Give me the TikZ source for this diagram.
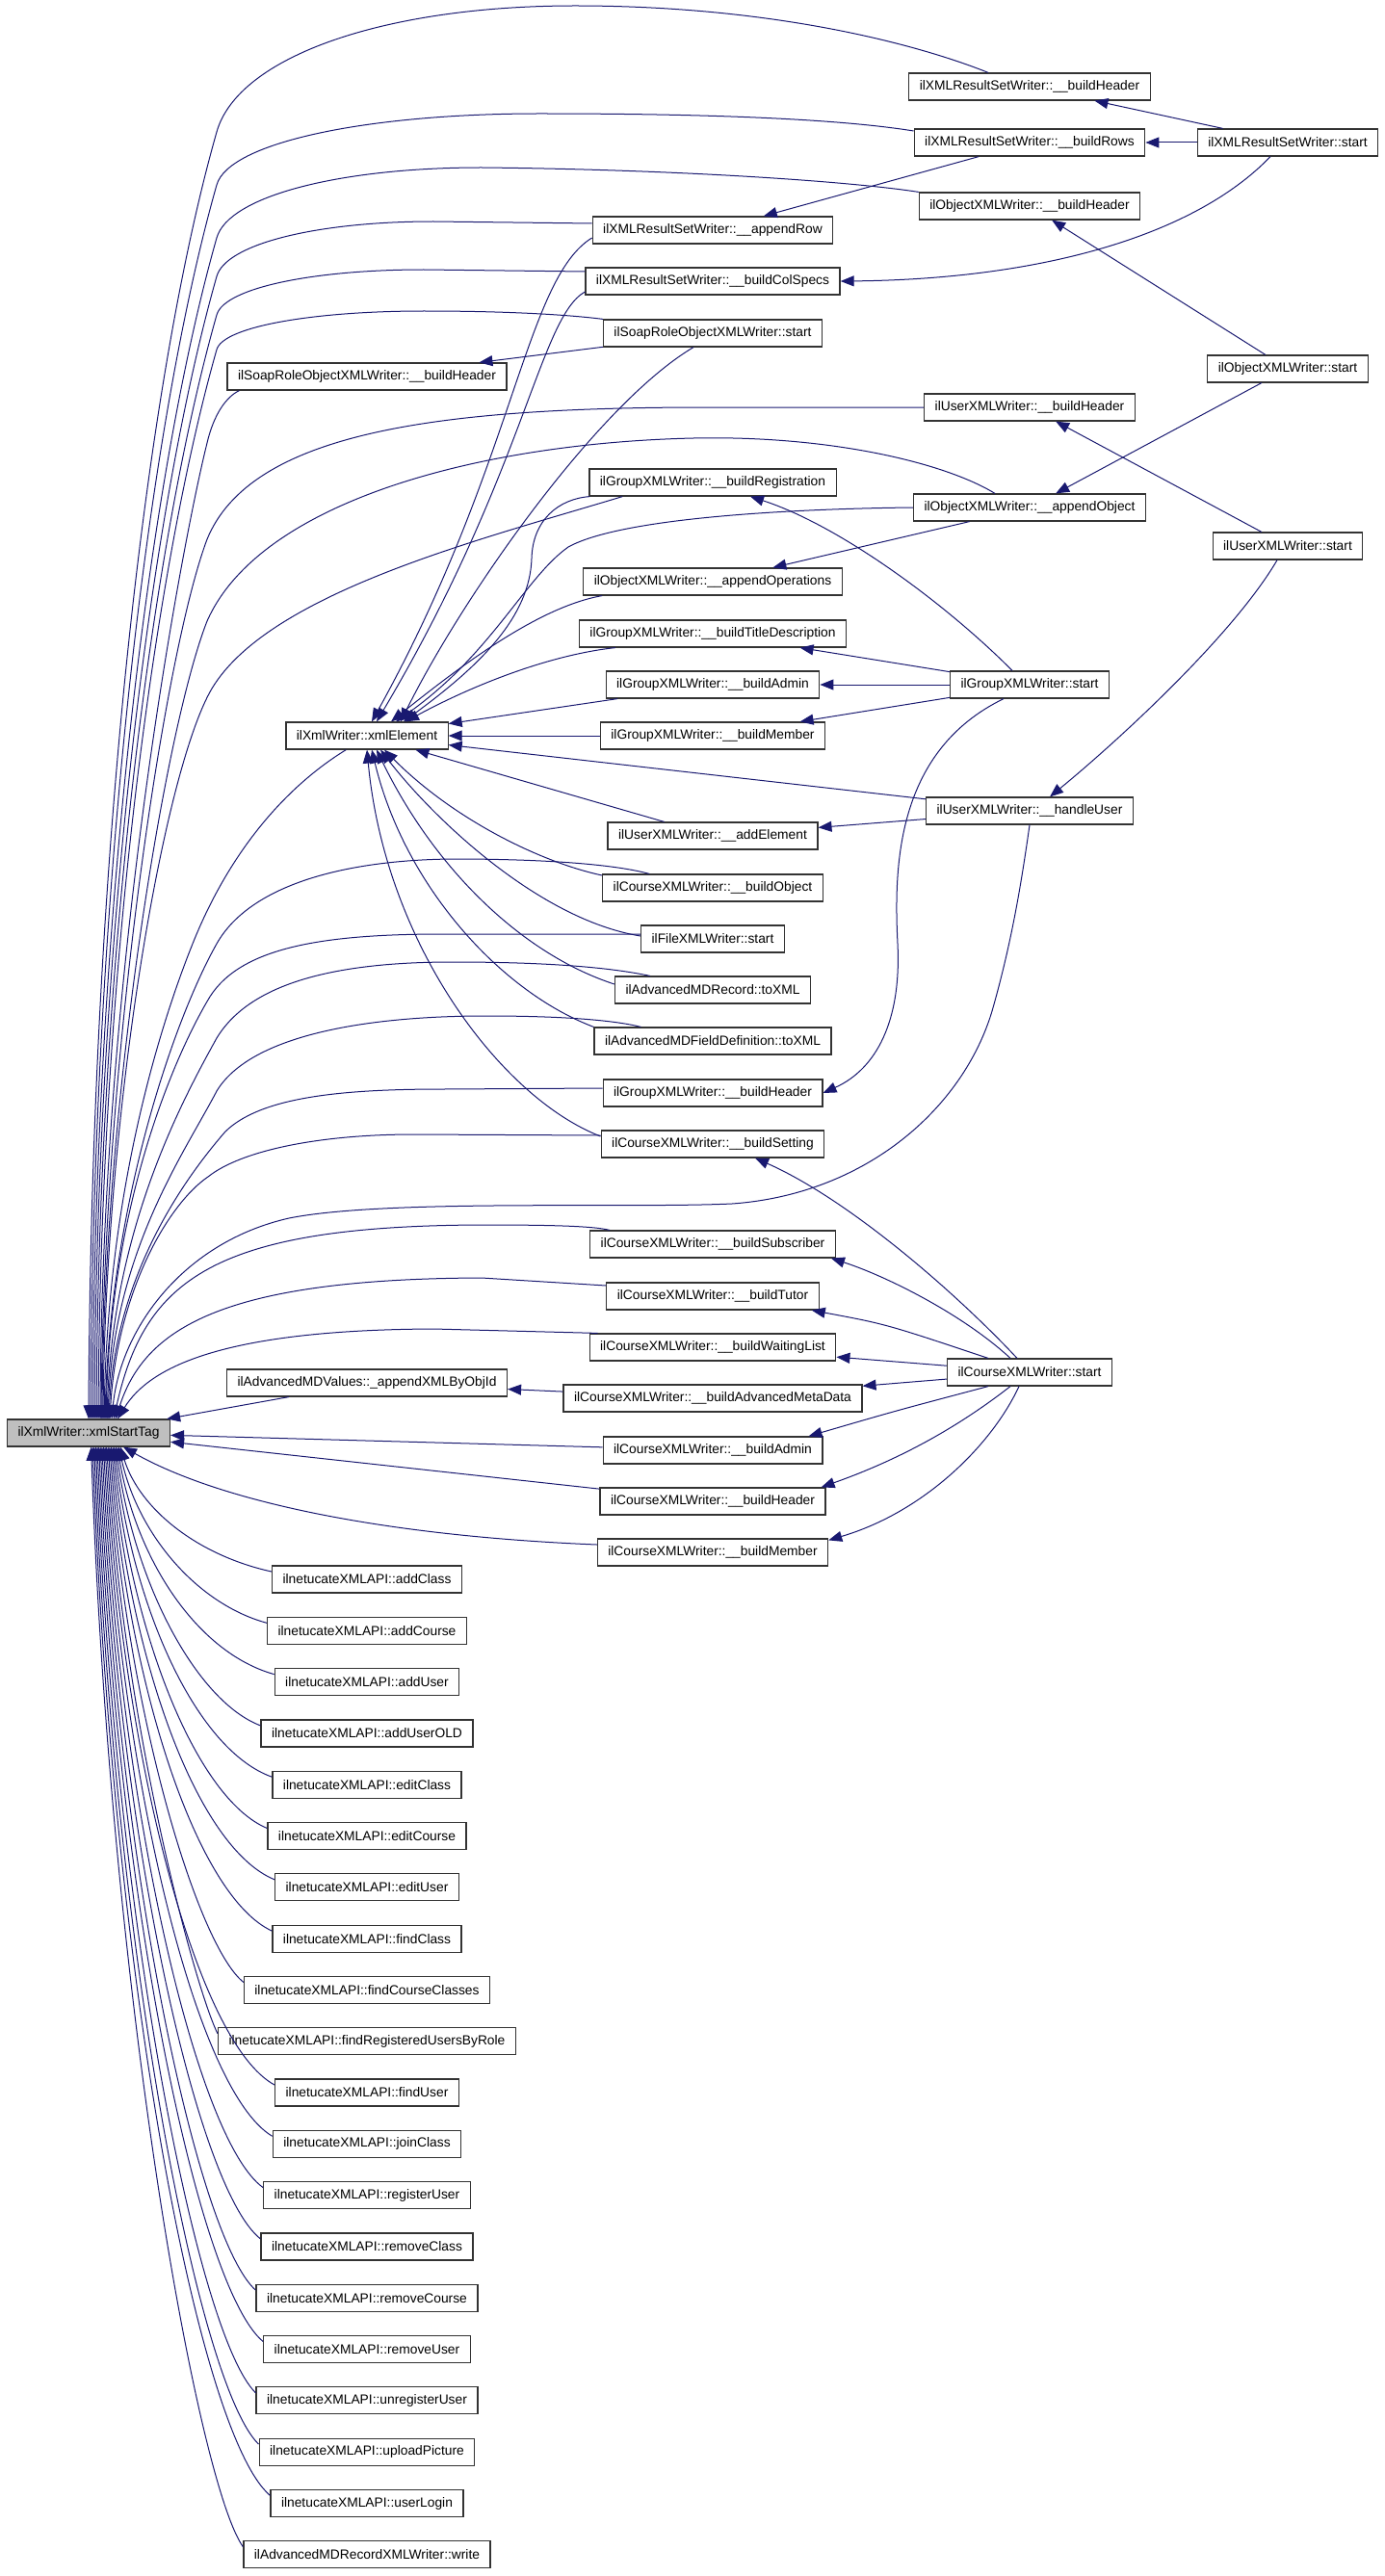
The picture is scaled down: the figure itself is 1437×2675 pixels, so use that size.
\documentclass[tikz,border=0pt]{standalone}
\usepackage{fontspec}
\setmainfont{Liberation Sans}
\usetikzlibrary{arrows.meta,calc}

\definecolor{navyline}{HTML}{191970}
\tikzset{
  fn/.style={draw=black!80, line width=0.6pt, fill=white, minimum height=14pt,
    inner xsep=5.5pt, inner ysep=0pt, font=\fontsize{6.9pt}{8pt}\selectfont},
  call/.style={draw=navyline, line width=0.5pt, {Triangle[length=7pt,width=5.5pt]}-}
}
% curve leaving the top of xmlStartTag: x offset, knee y, crest y, crest x
\newcommand\fromtag[4]{($(startTag.north)+(#1,0)$) .. controls ({95+#1},{1474-0.43*(1474-#2)}) and ({225-0.056*(1474-#2)},{#2+0.197*(1474-#2)}) .. (225,#2) .. controls ({225+0.17*(#2-#3)},{#3+0.4*(#2-#3)}) and ({225+0.47*(#4-225)},#3) .. (#4,#3)}

\begin{document}
\begin{tikzpicture}[x=0.5pt,y=-0.5pt]
\useasboundingbox (0,0) rectangle (1437,2675);

\node[fn, fill=gray!50] (startTag) at (92,1488) {ilXmlWriter::xmlStartTag};

% first column
\node[fn] (soapHeader) at (381,391) {ilSoapRoleObjectXMLWriter::\_\_buildHeader};
\node[fn] (xmlElement) at (381,764) {ilXmlWriter::xmlElement};
\node[fn] (mdValues) at (381,1436) {ilAdvancedMDValues::\_appendXMLByObjId};

% second column
\node[fn] (rsAppendRow) at (740,239) {ilXMLResultSetWriter::\_\_appendRow};
\node[fn] (rsColSpecs) at (740,292) {ilXMLResultSetWriter::\_\_buildColSpecs};
\node[fn] (soapStart) at (740,346) {ilSoapRoleObjectXMLWriter::start};
\node[fn] (grpReg) at (740,501) {ilGroupXMLWriter::\_\_buildRegistration};
\node[fn] (objOps) at (740,604) {ilObjectXMLWriter::\_\_appendOperations};
\node[fn] (grpTitle) at (740,658) {ilGroupXMLWriter::\_\_buildTitleDescription};
\node[fn] (grpAdmin) at (740,711) {ilGroupXMLWriter::\_\_buildAdmin};
\node[fn] (grpMember) at (740,764) {ilGroupXMLWriter::\_\_buildMember};
\node[fn] (userAdd) at (740,868) {ilUserXMLWriter::\_\_addElement};
\node[fn] (crsObject) at (740,922) {ilCourseXMLWriter::\_\_buildObject};
\node[fn] (fileStart) at (740,975) {ilFileXMLWriter::start};
\node[fn] (mdRecord) at (740,1028) {ilAdvancedMDRecord::toXML};
\node[fn] (mdField) at (740,1081) {ilAdvancedMDFieldDefinition::toXML};
\node[fn] (grpHeader) at (740,1135) {ilGroupXMLWriter::\_\_buildHeader};
\node[fn] (crsSetting) at (740,1188) {ilCourseXMLWriter::\_\_buildSetting};
\node[fn] (crsSub) at (740,1292) {ilCourseXMLWriter::\_\_buildSubscriber};
\node[fn] (crsTutor) at (740,1346) {ilCourseXMLWriter::\_\_buildTutor};
\node[fn] (crsWait) at (740,1399) {ilCourseXMLWriter::\_\_buildWaitingList};
\node[fn] (crsMeta) at (740,1452) {ilCourseXMLWriter::\_\_buildAdvancedMetaData};
\node[fn] (crsAdmin) at (740,1506) {ilCourseXMLWriter::\_\_buildAdmin};
\node[fn] (crsHeader) at (740,1559) {ilCourseXMLWriter::\_\_buildHeader};
\node[fn] (crsMember) at (740,1612) {ilCourseXMLWriter::\_\_buildMember};

% third column
\node[fn] (rsHeader) at (1069,90) {ilXMLResultSetWriter::\_\_buildHeader};
\node[fn] (rsRows) at (1069,148) {ilXMLResultSetWriter::\_\_buildRows};
\node[fn] (objHeader) at (1069,214) {ilObjectXMLWriter::\_\_buildHeader};
\node[fn] (userHeader) at (1069,423) {ilUserXMLWriter::\_\_buildHeader};
\node[fn] (objAppend) at (1069,527) {ilObjectXMLWriter::\_\_appendObject};
\node[fn] (grpStart) at (1069,711) {ilGroupXMLWriter::start};
\node[fn] (userHandle) at (1069,842) {ilUserXMLWriter::\_\_handleUser};
\node[fn] (crsStart) at (1069,1425) {ilCourseXMLWriter::start};

% fourth column
\node[fn] (rsStart) at (1337,148) {ilXMLResultSetWriter::start};
\node[fn] (objStart) at (1337,383) {ilObjectXMLWriter::start};
\node[fn] (userStart) at (1337,567) {ilUserXMLWriter::start};

% calls on the right
\draw[call] (rsHeader) -- (rsStart);
\draw[call] (rsRows) -- (rsStart);
\draw[call] (rsAppendRow) -- (rsRows);
\draw[call] (rsColSpecs.east) .. controls (1080,290) and (1240,245) .. ($(rsStart.south)+(-18,0)$);
\draw[call] (objHeader) -- (objStart);
\draw[call] (objAppend) -- (objStart);
\draw[call] (objOps) -- (objAppend);
\draw[call] (userHeader) -- (userStart);
\draw[call] ($(userHandle.north)+(21,0)$) .. controls (1160,770) and (1280,660) .. ($(userStart.south)+(-11,0)$);
\draw[call] (userAdd) -- (userHandle);
\draw[call] (soapHeader) -- (soapStart);
\draw[call] ($(grpReg.south)+(39,0)$) .. controls (870,545) and (980,625) .. ($(grpStart.north)+(-18,0)$);
\draw[call] (grpTitle) -- (grpStart);
\draw[call] (grpAdmin) -- (grpStart);
\draw[call] (grpMember) -- (grpStart);
\draw[call] (grpHeader.east) .. controls (910,1110) and (936,1060) .. (932,980) .. controls (928,900) and (930,780) .. ($(grpStart.south)+(-27,0)$);
\draw[call] ($(crsSetting.south)+(44,0)$) .. controls (880,1245) and (990,1340) .. ($(crsStart.north)+(-13,0)$);
\draw[call] ($(crsSub.south east)+(-5,0)$) .. controls (920,1325) and (1000,1365) .. ($(crsStart.north)+(-20,0)$);
\draw[call] ($(crsTutor.south east)+(-8,0)$) .. controls (920,1375) .. ($(crsStart.north)+(-43,0)$);
\draw[call] (crsWait) -- (crsStart);
\draw[call] (crsMeta) -- (crsStart);
\draw[call] ($(crsAdmin.north east)+(-15,0)$) .. controls (930,1465) .. ($(crsStart.south)+(-43,0)$);
\draw[call] ($(crsHeader.north east)+(-5,0)$) .. controls (950,1510) and (1010,1470) .. ($(crsStart.south)+(-20,0)$);
\draw[call] ($(crsMember.north east)+(0,2)$) .. controls (960,1570) and (1030,1500) .. ($(crsStart.south)+(-11,0)$);
\draw[call] (mdValues) -- (crsMeta);

% calls of xmlElement
\draw[call] ($(xmlElement.north)+(5,0)$) .. controls (535,480) and (545,290) .. ($(rsAppendRow.west)+(0,8)$);
\draw[call] ($(xmlElement.north)+(10,0)$) .. controls (545,490) and (560,330) .. ($(rsColSpecs.west)+(0,11)$);
\draw[call] ($(xmlElement.north)+(35,0)$) .. controls (480,620) and (620,420) .. ($(soapStart.south)+(-20,0)$);
\draw[call] ($(xmlElement.north)+(38,0)$) .. controls (500,690) and (550,640) .. (552,580) .. controls (553,540) and (580,518) .. ($(grpReg.south west)+(1,0)$);
\draw[call] ($(xmlElement.north)+(30,0)$) .. controls (510,680) and (545,600) .. (590,568) .. controls (650,535) and (850,528) .. (objAppend.west);
\draw[call] ($(xmlElement.north)+(25,0)$) .. controls (480,690) and (560,630) .. ($(objOps.south west)+(20,0)$);
\draw[call] ($(xmlElement.north)+(40,0)$) .. controls (490,712) and (570,680) .. ($(grpTitle.south west)+(38,0)$);
\draw[call] (xmlElement) -- (grpAdmin);
\draw[call] (xmlElement) -- (grpMember);
\draw[call] (xmlElement) -- (userHandle);
\draw[call] (xmlElement) -- (userAdd);
\draw[call] ($(xmlElement.south)+(18,0)$) .. controls (470,850) and (560,895) .. ($(crsObject.west)+(0,-13)$);
\draw[call] ($(xmlElement.south)+(14,0)$) .. controls (450,850) and (560,955) .. ($(fileStart.west)+(0,-3)$);
\draw[call] ($(xmlElement.south)+(10,0)$) .. controls (450,900) and (540,990) .. ($(mdRecord.west)+(0,-6)$);
\draw[call] ($(xmlElement.south)+(5,0)$) .. controls (420,920) and (520,1030) .. (mdField.north west);
\draw[call] (xmlElement.south) .. controls (400,980) and (520,1140) .. ($(crsSetting.west)+(0,-8)$);

% calls of xmlStartTag from above
\draw[call] \fromtag{0}{137}{6}{597} .. controls (800,6) and (950,45) .. ($(rsHeader.north)+(-43,0)$);
\draw[call] \fromtag{2}{192}{118}{560} .. controls (760,118) and (880,125) .. ($(rsRows.west)+(0,-12)$);
\draw[call] \fromtag{4}{247}{174}{500} .. controls (700,176) and (880,188) .. (objHeader.north west);
\draw[call] \fromtag{6}{287}{230}{450} -- ($(rsAppendRow.west)+(0,-7)$);
\draw[call] \fromtag{8}{327}{280}{440} -- ($(rsColSpecs.west)+(0,-10)$);
\draw[call] \fromtag{10}{363}{323}{440} .. controls (540,323) and (600,328) .. (soapStart.north west);
\draw[call] ($(startTag.north)+(12,0)$) .. controls (106,1000) and (190,560) .. (215,460) .. controls (222,430) and (235,412) .. ($(soapHeader.south west)+(13,0)$);
\draw[call] ($(startTag.north)+(13,0)$) .. controls (108,1100) and (170,680) .. (215,560) .. controls (260,450) and (450,424) .. (720,423) -- (userHeader.west);
\draw[call] ($(startTag.north)+(14,0)$) .. controls (108,1150) and (170,760) .. (215,645) .. controls (270,520) and (500,460) .. (720,455) .. controls (860,452) and (980,480) .. ($(objAppend.north)+(-36,0)$);
\draw[call] ($(startTag.north)+(15,0)$) .. controls (110,1150) and (170,800) .. (220,715) .. controls (280,615) and (500,560) .. ($(grpReg.south west)+(35,0)$);
\draw[call] ($(startTag.north)+(16,0)$) .. controls (112,1250) and (160,1080) .. (200,980) .. controls (240,880) and (300,815) .. ($(xmlElement.south west)+(63,0)$);
\draw[call] ($(startTag.north)+(17,0)$) .. controls (115,1250) and (180,1060) .. (225,980) .. controls (260,918) and (360,893) .. (470,892) .. controls (570,892) and (640,898) .. ($(crsObject.north west)+(49,0)$);
\draw[call] ($(startTag.north)+(18,0)$) .. controls (115,1250) and (180,1100) .. (215,1040) .. controls (245,985) and (330,970) .. (460,970) -- ($(fileStart.west)+(0,-5)$);
\draw[call] ($(startTag.north)+(19,0)$) .. controls (117,1280) and (185,1150) .. (225,1078) .. controls (260,1020) and (350,999) .. (470,999) .. controls (580,999) and (640,1006) .. ($(mdRecord.north west)+(37,0)$);
\draw[call] ($(startTag.north)+(20,0)$) .. controls (118,1300) and (190,1200) .. (225,1133) .. controls (260,1075) and (380,1055) .. (505,1055) .. controls (590,1055) and (640,1060) .. ($(mdField.north west)+(49,0)$);
\draw[call] ($(startTag.north)+(21,0)$) .. controls (120,1320) and (195,1220) .. (234,1175) .. controls (270,1140) and (350,1131) .. (460,1131) -- ($(grpHeader.west)+(0,-5)$);
\draw[call] ($(startTag.north)+(22,0)$) .. controls (122,1340) and (175,1250) .. (216,1222) .. controls (250,1195) and (330,1178) .. (430,1178) -- ($(crsSetting.west)+(0,-9)$);
\draw[call] ($(startTag.north)+(24,0)$) .. controls (125,1380) and (190,1290) .. (300,1265) .. controls (400,1245) and (650,1255) .. (760,1250) .. controls (900,1240) and (1000,1150) .. (1030,1050) .. controls (1050,980) and (1060,920) .. (userHandle.south);
\draw[call] ($(startTag.north)+(26,0)$) .. controls (150,1330) and (220,1273) .. (500,1272) .. controls (570,1272) and (615,1273) .. ($(crsSub.north west)+(21,0)$);
\draw[call] ($(startTag.north)+(28,0)$) .. controls (150,1380) and (230,1328) .. (500,1327) -- ($(crsTutor.west)+(0,-11)$);
\draw[call] ($(startTag.north)+(30,0)$) .. controls (155,1420) and (230,1381) .. (450,1380) -- ($(crsWait.north west)+(9,0)$);
\draw[call] (startTag) -- (mdValues);

% calls of xmlStartTag from the side and below
\draw[call] (startTag) -- (crsAdmin);
\draw[call] (startTag) -- (crsHeader);
\draw[call] ($(startTag.south)+(36,0)$) .. controls (230,1560) and (400,1595) .. ($(crsMember.west)+(0,-8)$);
\foreach \fname [count=\k from 0] in {ilnetucateXMLAPI::addClass, ilnetucateXMLAPI::addCourse,
    ilnetucateXMLAPI::addUser, ilnetucateXMLAPI::addUserOLD, ilnetucateXMLAPI::editClass,
    ilnetucateXMLAPI::editCourse, ilnetucateXMLAPI::editUser, ilnetucateXMLAPI::findClass,
    ilnetucateXMLAPI::findCourseClasses, ilnetucateXMLAPI::findRegisteredUsersByRole,
    ilnetucateXMLAPI::findUser, ilnetucateXMLAPI::joinClass, ilnetucateXMLAPI::registerUser,
    ilnetucateXMLAPI::removeClass, ilnetucateXMLAPI::removeCourse, ilnetucateXMLAPI::removeUser,
    ilnetucateXMLAPI::unregisterUser, ilnetucateXMLAPI::uploadPicture, ilnetucateXMLAPI::userLogin,
    ilAdvancedMDRecordXMLWriter::write}{
  \pgfmathsetmacro\yy{1640+53.3*\k}
  \node[fn] (api\k) at (381,\yy) {\fname};
  \draw[call] ($(startTag.south)+({33-1.6*\k},0)$) .. controls ({145-1.6*\k},{1502+0.5*(\yy-1510)}) and (205,{\yy-18-0.05*(\yy-1502)}) .. ($(api\k.west)+(0,-8)$);
}
\end{tikzpicture}
\end{document}
